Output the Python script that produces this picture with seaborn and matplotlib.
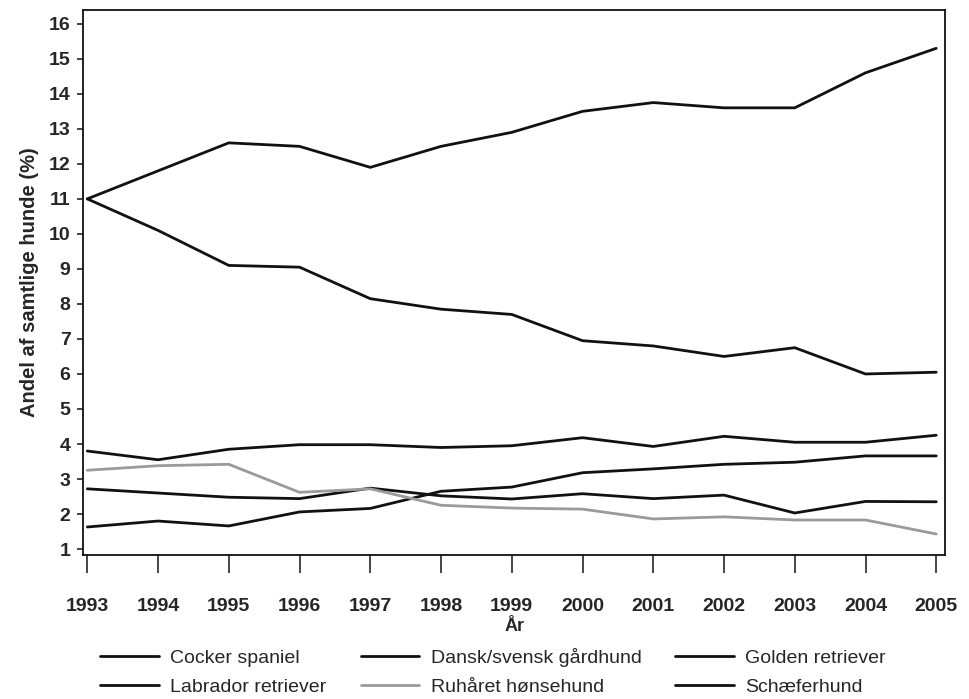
import numpy as np
import pandas as pd
import matplotlib
matplotlib.use("Agg")
import matplotlib.pyplot as plt
import seaborn as sns

years = list(range(1993, 2006))

labrador = [11.0, 11.8, 12.6, 12.5, 11.9, 12.5, 12.9, 13.5, 13.75, 13.6, 13.6, 14.6, 15.3]
schaefer = [11.0, 10.1, 9.1, 9.05, 8.15, 7.85, 7.7, 6.95, 6.8, 6.5, 6.75, 6.0, 6.05]
golden = [3.8, 3.55, 3.85, 3.98, 3.98, 3.9, 3.95, 4.18, 3.93, 4.22, 4.05, 4.05, 4.25]
ruhaaret = [3.25, 3.38, 3.42, 2.62, 2.72, 2.25, 2.17, 2.14, 1.86, 1.92, 1.83, 1.83, 1.43]
cocker = [2.72, 2.6, 2.48, 2.44, 2.74, 2.52, 2.43, 2.58, 2.44, 2.54, 2.03, 2.36, 2.35]
gaardhund = [1.63, 1.8, 1.66, 2.06, 2.16, 2.65, 2.77, 3.18, 3.29, 3.42, 3.48, 3.66, 3.66]

series = {
    "Cocker spaniel": cocker,
    "Dansk/svensk gårdhund": gaardhund,
    "Golden retriever": golden,
    "Labrador retriever": labrador,
    "Ruhåret hønsehund": ruhaaret,
    "Schæferhund": schaefer,
}
palette = {
    "Cocker spaniel": "#111111",
    "Dansk/svensk gårdhund": "#111111",
    "Golden retriever": "#111111",
    "Labrador retriever": "#111111",
    "Ruhåret hønsehund": "#9a9a9a",
    "Schæferhund": "#111111",
}

df = pd.DataFrame(
    [(y, name, v) for name, vals in series.items() for y, v in zip(years, vals)],
    columns=["År", "Race", "Andel"],
)

sns.set_style("ticks")
plt.rcParams["font.family"] = ["Liberation Sans", "DejaVu Sans"]

fig = plt.figure(figsize=(9.69, 6.99), dpi=100)
ax = fig.add_axes([0.0857, 0.206, 0.890, 0.780])

sns.lineplot(data=df, x="År", y="Andel", hue="Race", palette=palette,
             linewidth=2.0, ax=ax, legend=False)

ax.set_xlim(1992.94, 2005.13)
ax.set_ylim(0.83, 16.4)
ax.set_xticks(years)
ax.set_yticks(range(1, 17))
ax.tick_params(axis="x", direction="out", length=13, width=1.2, labelsize=14, pad=18)
ax.tick_params(axis="y", direction="out", length=4, width=1.2, labelsize=14, pad=5)
for lab in ax.get_xticklabels() + ax.get_yticklabels():
    lab.set_fontweight("bold")
for s in ax.spines.values():
    s.set_linewidth(1.3)
    s.set_color("#111111")
ax.set_xlabel("År", fontsize=13, fontweight="bold", labelpad=2)
ax.set_ylabel("Andel af samtlige hunde (%)", fontsize=14.5, fontweight="bold", labelpad=7)

# legend in row order: row-wise 3 columns
order = ["Cocker spaniel", "Labrador retriever", "Dansk/svensk gårdhund",
         "Ruhåret hønsehund", "Golden retriever", "Schæferhund"]
handles = [plt.Line2D([], [], color=palette[n], linewidth=2.0) for n in order]
fig.legend(handles, order, loc="lower center", bbox_to_anchor=(0.509, -0.021), ncol=3,
           frameon=False, fontsize=14, columnspacing=1.75, handlelength=3.0,
           labelspacing=0.6, handletextpad=0.6)

fig.savefig("out.png", dpi=100)
